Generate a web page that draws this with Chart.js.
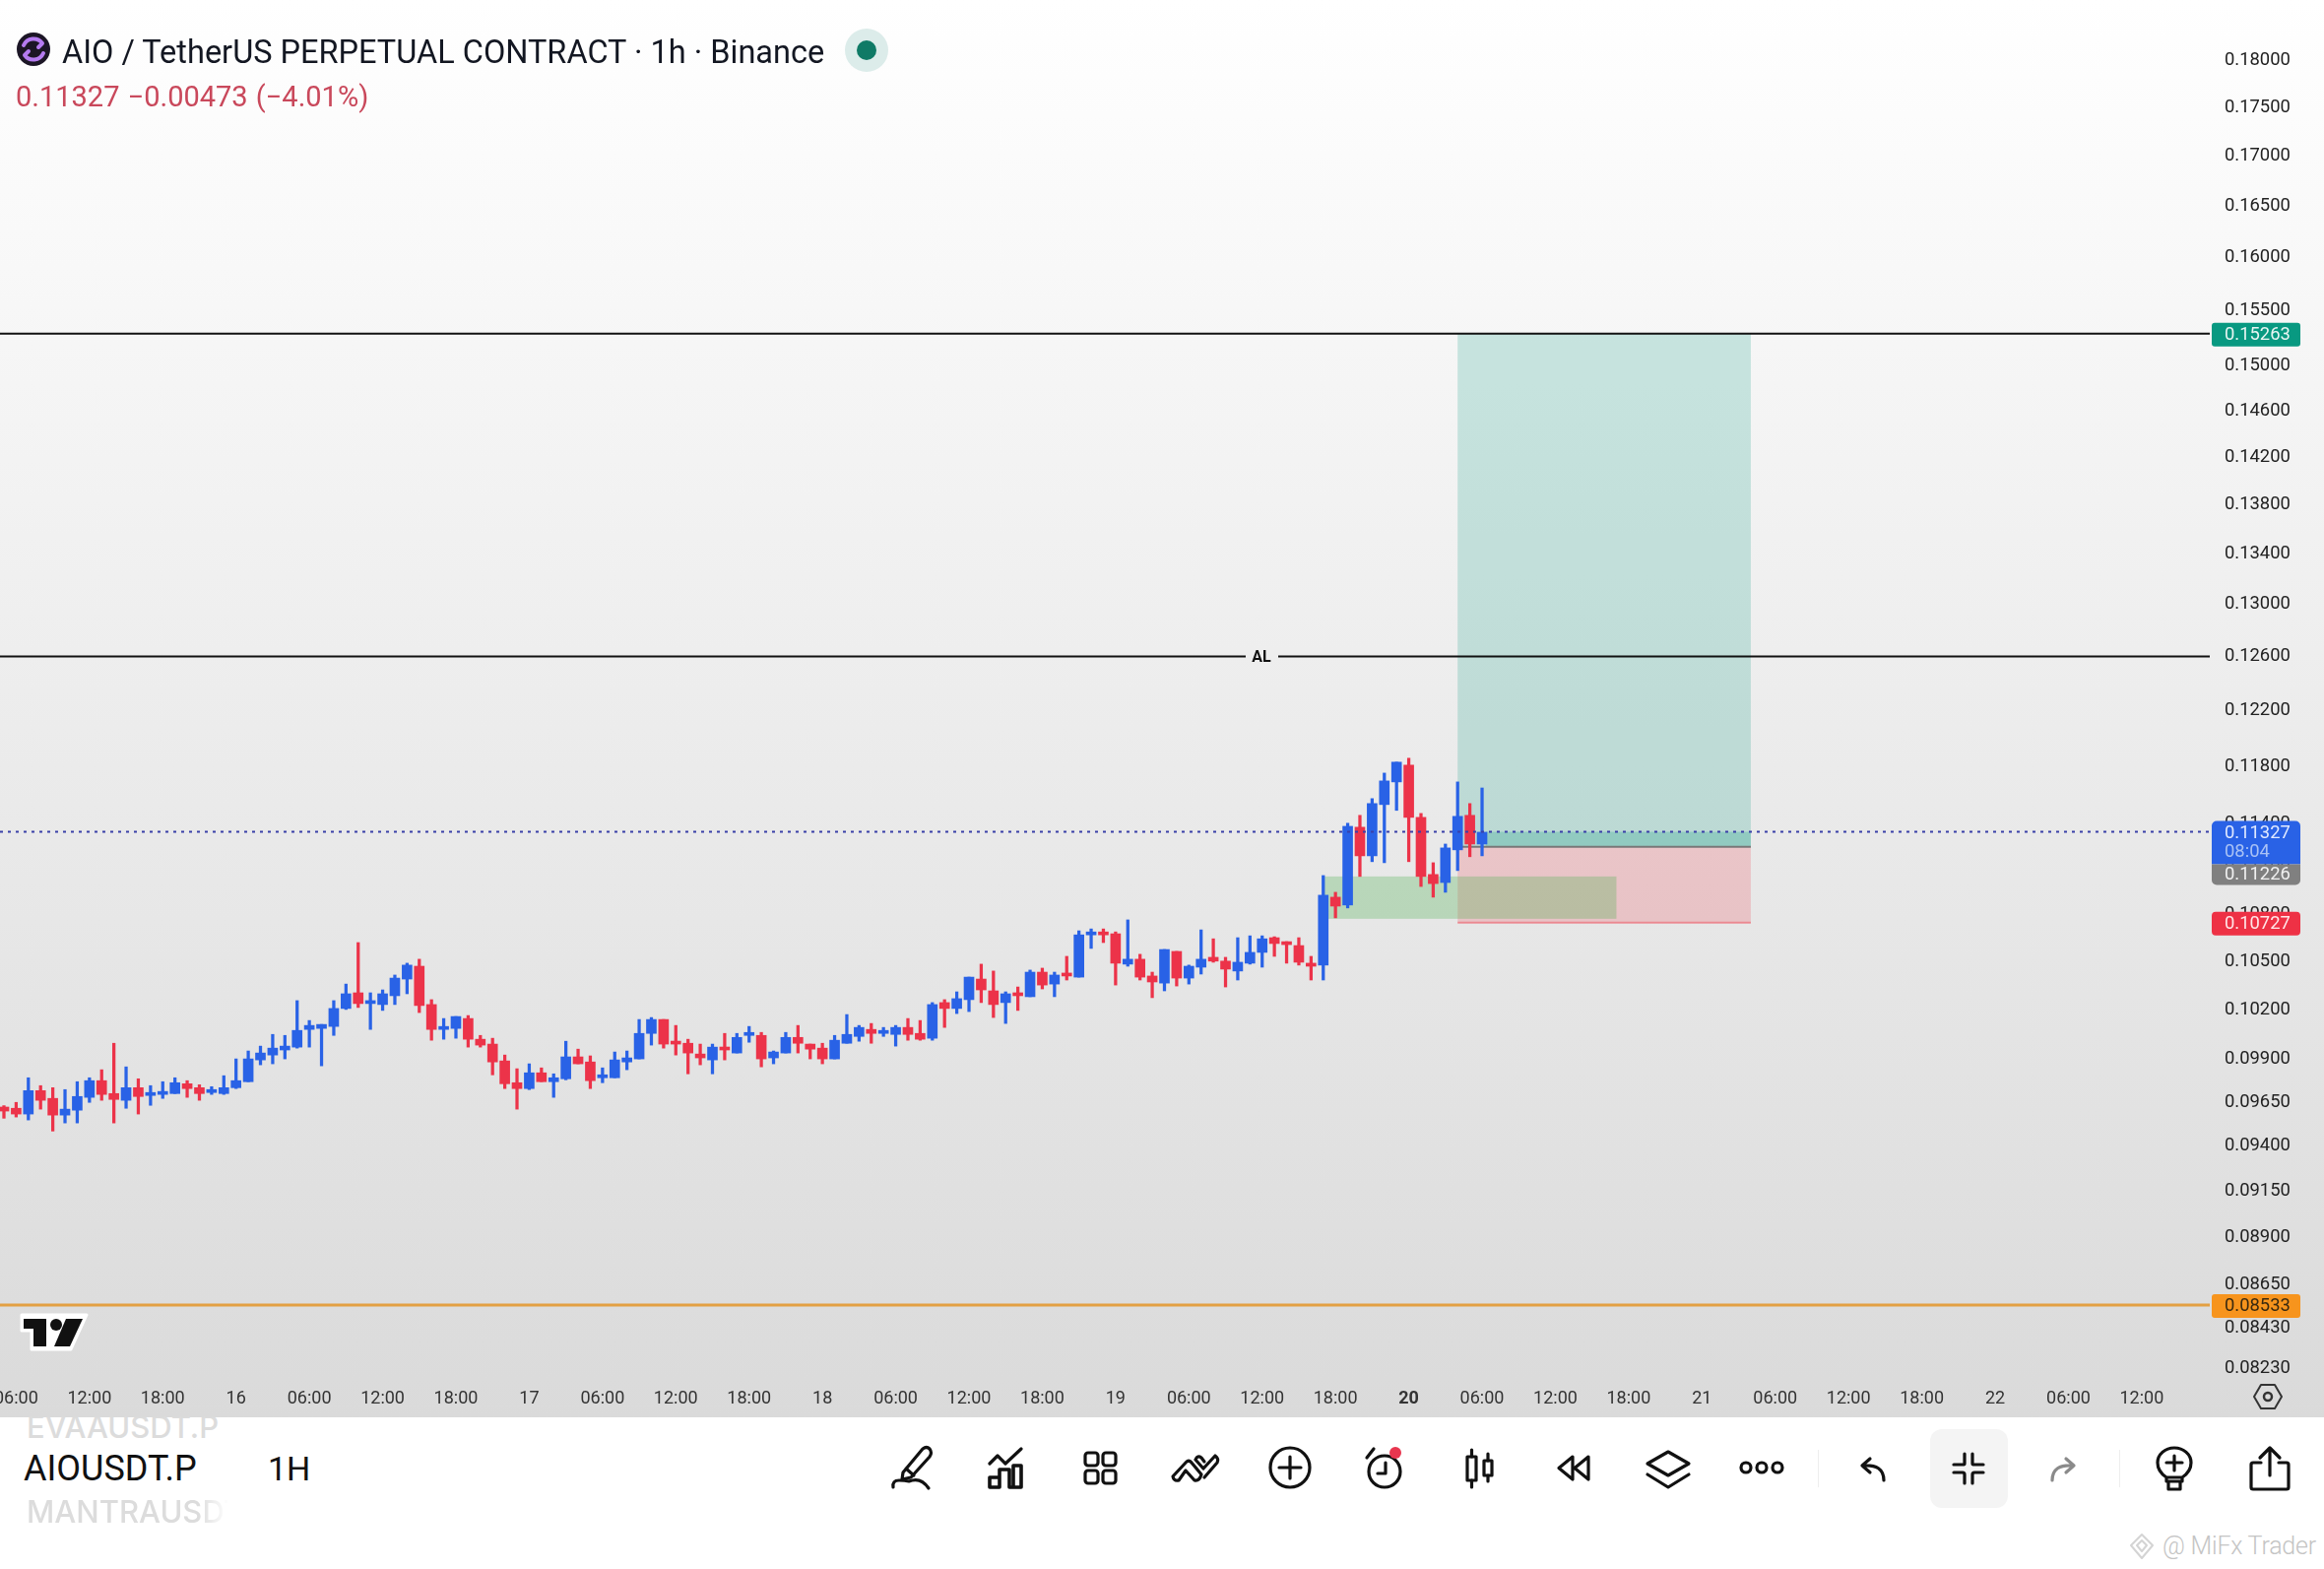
<!DOCTYPE html>
<html>
<head>
<meta charset="utf-8">
<title>AIOUSDT.P</title>
<script src="https://cdn.jsdelivr.net/npm/chart.js@4/dist/chart.umd.min.js"></script>
<style>
  html, body { margin: 0; padding: 0; background: #fff; }
  body { width: 2360px; height: 1593px; position: relative; overflow: hidden; font-family: Roboto, sans-serif; }
  #plot { position: absolute; left: 0; top: 0; width: 2360px; height: 1439px; background: linear-gradient(#ffffff, #dadada); }
  #c { display: block; }
  .t { position: absolute; white-space: nowrap; line-height: 1; }
  #title { left: 63px; top: 34px; font: 400 32.500px Roboto, sans-serif; color: #131722; }
  #quote { left: 16px; top: 81px; font: 400 29px Roboto, sans-serif; word-spacing: 1px; color: #c9485b; }
  .sym { font-family: Roboto, sans-serif; font-weight: 400; }
  #ghostTop, #ghostBottom { color: #dcdcdc; overflow: hidden; font: 500 31px Inter, sans-serif; }
  #ghostBottom { -webkit-mask-image: linear-gradient(90deg, #000 85%, transparent); }
  svg.i { position: absolute; overflow: visible; }
  svg.i * { fill: none; stroke: #111; stroke-width: 3.2; stroke-linecap: round; stroke-linejoin: round; }
</style>
</head>
<body>
<div id="plot"><canvas id="c" width="2360" height="1439"></canvas></div>

<svg class="i" style="left:0;top:0" width="90" height="100" viewBox="0 0 90 100">
  <circle cx="34" cy="50" r="17" style="fill:#1c1626;stroke:none"/>
  <path d="M24 46 A11 11 0 0 1 43 44 L39 48 M44 54 A11 11 0 0 1 25 56 L29 52" style="stroke:#b57bf0;stroke-width:4"/>
</svg>
<div class="t" id="title">AIO / TetherUS PERPETUAL CONTRACT · 1h · Binance</div>
<svg class="i" style="left:858px;top:29px" width="44" height="44">
  <circle cx="22" cy="22" r="22" style="fill:#dcecea;stroke:none"/>
  <circle cx="22" cy="22" r="10" style="fill:#0f7a66;stroke:none"/>
</svg>
<div class="t" id="quote">0.11327 −0.00473 (−4.01%)</div>

<svg class="i" style="left:20px;top:1333px" width="70" height="38" viewBox="0 0 70 38">
  <path d="M2 2 H33 V37 H12 V18 H2 Z M34 2 H68 L52 37 H34 Z" style="fill:#fff;stroke:#fff;stroke-width:3"/>
  <path d="M4 6 H27 V34 H14 V16 H4 Z" style="fill:#111;stroke:none"/>
  <circle cx="37" cy="12" r="6" style="fill:#111;stroke:none"/>
  <path d="M47 6 H64 L51 34 H35 Z" style="fill:#111;stroke:none"/>
</svg>
<svg class="i" style="left:2288px;top:1405px" width="30" height="26" viewBox="0 0 30 26">
  <path d="M1 13 L8 1 H22 L29 13 L22 25 H8 Z" style="stroke-width:2;stroke:#333"/>
  <circle cx="15" cy="13" r="4" style="stroke-width:2.5;stroke:#333"/>
</svg>

<div class="t" id="ghostTop" style="left:27px;top:1439px;height:24px;"><div style="margin-top:-9px">EVAAUSDT.P</div></div>
<div class="t sym" style="left:24px;top:1473px;font-size:36px;color:#111;">AIOUSDT.P</div>
<div class="t sym" style="left:272px;top:1474px;font-size:34px;color:#111;">1H</div>
<div class="t" id="ghostBottom" style="left:27px;top:1516px;width:205px;">MANTRAUSDT.P</div>

<!-- toolbar -->
<svg class="i" style="left:905px;top:1467px" width="44" height="46" viewBox="0 0 44 46">
  <path d="M12 28 L32 4 Q36 1 39 4 Q42 8 39 12 L20 33 L11 35 Z M15 24 L23 31"/>
  <path d="M2 43 Q1 36 8 36 Q14 36 18 37 Q30 32 38 44"/>
</svg>
<svg class="i" style="left:1004px;top:1470px" width="36" height="42" viewBox="0 0 36 42">
  <path d="M1 16 L9 8 L17 16 L33 1"/>
  <path d="M1 40 V30 H11 V40 Z M11 40 V22 H21 V40 M21 40 H33 V18 H25 V40" style="stroke-width:3.6"/>
</svg>
<svg class="i" style="left:1101px;top:1474px" width="33" height="33" viewBox="0 0 33 33">
  <rect x="1" y="1" width="13" height="13" rx="3"/><rect x="19" y="1" width="13" height="13" rx="3"/>
  <rect x="1" y="19" width="13" height="13" rx="3"/><rect x="19" y="19" width="13" height="13" rx="3"/>
</svg>
<svg class="i" style="left:1190px;top:1476px" width="48" height="30" viewBox="0 0 48 30">
  <path d="M1 23 L15 8 Q18 6 20 9 L30 21 Q28 28 23 27 L14 17 L7 27 Q2 28 1 23 Z M24 6 L32 15 L44 2 Q48 5 46 9 L33 24 M24 6 Q26 1 30 4 L33 8"/>
</svg>
<svg class="i" style="left:1289px;top:1469px" width="42" height="42" viewBox="0 0 42 42">
  <circle cx="21" cy="21" r="20"/><path d="M21 10 V32 M10 21 H32"/>
</svg>
<svg class="i" style="left:1386px;top:1468px" width="38" height="44" viewBox="0 0 38 44">
  <circle cx="20" cy="26" r="16"/><path d="M21 17 V28 H13 M2 12 L9 3"/>
  <circle cx="31" cy="7" r="6" style="fill:#e8364f;stroke:none"/>
</svg>
<svg class="i" style="left:1488px;top:1471px" width="30" height="40" viewBox="0 0 30 40">
  <rect x="2" y="8" width="9" height="24"/><path d="M6.500 1 V8 M6.500 32 V39"/>
  <rect x="19" y="12" width="8" height="15"/><path d="M23 5 V12 M23 27 V33"/>
</svg>
<svg class="i" style="left:1581px;top:1477px" width="34" height="27" viewBox="0 0 34 27">
  <path d="M16 2 L2 13.500 L16 25 Z M32 2 L18 13.500 L32 25 Z"/>
</svg>
<svg class="i" style="left:1672px;top:1473px" width="44" height="38" viewBox="0 0 44 38">
  <path d="M22 1 L43 13 L22 25 L1 13 Z M1 24 L22 37 L43 24"/>
</svg>
<svg class="i" style="left:1767px;top:1483px" width="44" height="14" viewBox="0 0 44 14">
  <circle cx="6" cy="7" r="5"/><circle cx="22" cy="7" r="5"/><circle cx="38" cy="7" r="5"/>
</svg>
<div style="position:absolute;left:1846px;top:1472px;width:1px;height:38px;background:#eee"></div>
<svg class="i" style="left:1889px;top:1480px" width="26" height="24" viewBox="0 0 26 24">
  <path d="M10 1 L2 8 L10 15 M2 8 Q24 6 24 23"/>
</svg>
<div style="position:absolute;left:1960px;top:1451px;width:79px;height:80px;border-radius:12px;background:#f4f4f4"></div>
<svg class="i" style="left:1983px;top:1475px" width="32" height="32" viewBox="0 0 32 32">
  <path d="M12 1 V11 Q12 12 10 12 H1 M20 1 V11 Q20 12 22 12 H31 M12 31 V22 Q12 20 10 20 H1 M20 31 V22 Q20 20 22 20 H31"/>
</svg>
<svg class="i" style="left:2082px;top:1480px" width="26" height="24" viewBox="0 0 26 24">
  <path style="stroke:#8a8a8a" d="M16 1 L24 8 L16 15 M24 8 Q2 6 2 23"/>
</svg>
<div style="position:absolute;left:2152px;top:1472px;width:1px;height:38px;background:#eee"></div>
<svg class="i" style="left:2190px;top:1469px" width="36" height="44" viewBox="0 0 36 44">
  <path d="M10 31 Q1 25 1 16 A17 15 0 0 1 35 16 Q35 25 26 31 Z M18 9 V24 M10 16 H26 M10 31 V35 H26 V31 M12 35 V43 H24 V35"/>
</svg>
<svg class="i" style="left:2285px;top:1469px" width="40" height="44" viewBox="0 0 40 44">
  <path d="M20 29 V2 M10 11 L20 1 L30 11 M11 16 H3 Q1 16 1 18 V41 Q1 43 3 43 H37 Q39 43 39 41 V18 Q39 16 37 16 H29"/>
</svg>
<svg class="i" style="left:2163px;top:1557px" width="24" height="26" viewBox="0 0 24 26">
  <path style="stroke:#d4d4d4;stroke-width:2" d="M12 1 L23 12 L12 25 L1 12 Z M12 7 L17 12 L12 18 L7 12 Z"/>
</svg>
<div class="t" style="left:2196px;top:1555px;font:300 25px Roboto, sans-serif;letter-spacing:-0.2px;color:#c4c4c4;">@ MiFx Trader</div>

<script>
// candles, one hour each
const firstHour = -1; // 05:00 on the 15th, hour 0 is the 06:00 tick
const opens = [.09606,.09599,.09566,.09701,.09656,.09560,.09588,.09662,.09759,.09684,.09645,.09718,.09673,.09679,.09684,.09741,.09718,.09690,.09684,.09718,.09753,.09881,.09910,.09940,.09957,.10063,.10069,.10081,.10190,.10286,.10220,.10214,.10268,.10371,.10451,.10214,.10063,.10069,.10129,.10004,.09975,.09875,.09747,.09713,.09805,.09753,.09770,.09899,.09869,.09776,.09776,.09869,.09887,.10039,.10123,.09986,.09980,.09916,.09881,.09951,.09922,.10027,.10027,.09893,.09922,.10015,.09975,.09951,.09887,.09980,.10021,.10063,.10039,.10033,.10075,.10039,.10010,.10226,.10190,.10244,.10371,.10298,.10226,.10280,.10262,.10414,.10340,.10402,.10383,.10649,.10662,.10656,.10464,.10495,.10390,.10346,.10544,.10377,.10445,.10507,.10483,.10421,.10470,.10538,.10631,.10600,.10581,.10470,.10458,.10892,.10841,.11358,.11165,.11513,.11670,.11788,.11425,.11041,.10988,.11205,.11439,.11244];
const highs = [.09614,.09633,.09776,.09730,.09718,.09707,.09753,.09776,.09823,.09980,.09840,.09770,.09730,.09753,.09776,.09759,.09735,.09724,.09788,.09887,.09934,.09963,.10033,.10027,.10238,.10117,.10093,.10238,.10340,.10600,.10286,.10304,.10396,.10470,.10495,.10244,.10129,.10141,.10147,.10027,.10010,.09910,.09829,.09858,.09834,.09799,.09992,.09945,.09905,.09834,.09928,.09934,.10123,.10135,.10123,.10087,.10004,.09975,.09975,.10039,.10039,.10081,.10045,.09934,.10045,.10087,.09975,.09980,.10027,.10153,.10087,.10099,.10075,.10087,.10129,.10117,.10226,.10244,.10292,.10383,.10464,.10421,.10292,.10322,.10427,.10439,.10414,.10513,.10675,.10687,.10687,.10668,.10745,.10526,.10414,.10556,.10544,.10458,.10681,.10624,.10507,.10631,.10643,.10643,.10637,.10606,.10631,.10513,.11034,.10924,.11385,.11439,.11554,.11732,.11809,.11837,.11452,.11119,.11244,.11670,.11520,.11628];
const lows = [.09542,.09549,.09532,.09594,.09469,.09515,.09515,.09633,.09645,.09515,.09599,.09566,.09616,.09656,.09684,.09662,.09645,.09679,.09679,.09713,.09753,.09852,.09858,.09887,.09951,.09957,.09846,.10027,.10184,.10196,.10063,.10178,.10214,.10280,.10165,.09998,.10004,.10010,.09957,.09957,.09793,.09713,.09594,.09707,.09753,.09662,.09764,.09858,.09713,.09747,.09776,.09823,.09887,.09969,.09951,.09910,.09799,.09852,.09799,.09881,.09922,.09986,.09840,.09858,.09922,.09922,.09887,.09858,.09887,.09980,.09992,.09980,.10021,.09963,.09998,.09998,.09998,.10075,.10159,.10171,.10226,.10135,.10099,.10178,.10262,.10310,.10262,.10365,.10383,.10563,.10600,.10334,.10451,.10365,.10256,.10298,.10328,.10340,.10402,.10476,.10322,.10365,.10464,.10445,.10513,.10470,.10458,.10365,.10365,.10758,.10822,.11028,.11126,.11119,.11473,.11126,.10962,.10892,.10924,.11067,.11159,.11165];
const closes = [.09583,.09566,.09701,.09645,.09560,.09594,.09667,.09759,.09679,.09650,.09718,.09667,.09684,.09690,.09747,.09713,.09684,.09701,.09718,.09759,.09887,.09922,.09951,.09963,.10057,.10087,.10093,.10190,.10280,.10220,.10232,.10280,.10377,.10458,.10208,.10063,.10075,.10141,.10004,.09969,.09869,.09741,.09713,.09805,.09753,.09776,.09899,.09858,.09759,.09788,.09881,.09893,.10039,.10123,.09975,.09975,.09922,.09893,.09957,.09940,.10015,.10039,.09887,.09928,.10015,.09980,.09945,.09887,.09998,.10033,.10075,.10039,.10057,.10075,.10033,.10004,.10214,.10190,.10250,.10383,.10304,.10214,.10280,.10268,.10414,.10334,.10396,.10390,.10649,.10662,.10649,.10470,.10495,.10383,.10353,.10556,.10377,.10451,.10495,.10483,.10433,.10476,.10538,.10624,.10594,.10587,.10476,.10451,.10905,.10834,.11364,.11165,.11520,.11677,.11809,.11425,.11028,.10981,.11218,.11432,.11244,.11324];

// axis
const tickHours = [0,6,12,18,24,30,36,42,48,54,60,66,72,78,84,90,96,102,108,114,120,126,132,138,144,150,156,162,168,174];
const tickLabels = ["06:00","12:00","18:00","16","06:00","12:00","18:00","17","06:00","12:00","18:00","18","06:00","12:00","18:00","19","06:00","12:00","18:00","20","06:00","12:00","18:00","21","06:00","12:00","18:00","22","06:00","12:00"];
const priceTicks = [.18,.175,.17,.165,.16,.155,.15,.146,.142,.138,.134,.13,.126,.122,.118,.114,.111,.108,.105,.102,.099,.0965,.094,.0915,.089,.0865,.0843,.0823];

// levels and drawings
const stopTop = 0.15263;
const alLevel = 0.12581;
const orangeLevel = 0.08533;
const lastPrice = 0.11327;
const entryPrice = 0.11226;
const stopPrice = 0.10727;
const positionHours = [118, 142];
const greenHours = [107.1, 131];
const greenPrices = [0.10752, 0.11028];

const BLUE = "#2962e6", RED = "#ec3349";
const FONT = "Roboto, sans-serif";

const hours = opens.map((_, i) => firstHour + i);
const candleColor = (i) => (closes[i] >= opens[i] ? BLUE : RED);
const xMin = -1.322, xMax = 179.57;

function levelLine(value, color, width, dash) {
  return {
    type: "line",
    data: [{ x: xMin, y: value }, { x: xMax, y: value }],
    borderColor: color,
    borderWidth: width,
    borderDash: dash || [],
    pointRadius: 0,
    order: 1,
  };
}

// position boxes sit under the candles
const zones = {
  id: "zones",
  beforeDatasetsDraw(chart) {
    const { ctx, scales: { x, y } } = chart;
    const box = (h0, h1, p0, p1, fill) => {
      ctx.fillStyle = fill;
      ctx.fillRect(x.getPixelForValue(h0), y.getPixelForValue(p1), x.getPixelForValue(h1) - x.getPixelForValue(h0), y.getPixelForValue(p0) - y.getPixelForValue(p1));
    };
    ctx.save();
    box(positionHours[0], positionHours[1], entryPrice, stopTop, "rgba(8,153,129,0.2)");
    box(positionHours[0], positionHours[1], stopPrice, entryPrice, "rgba(242,54,69,0.2)");
    box(120.3, positionHours[1], entryPrice, lastPrice, "rgba(8,153,129,0.24)");
    box(greenHours[0], greenHours[1], greenPrices[0], greenPrices[1], "rgba(76,175,80,0.3)");
    ctx.strokeStyle = "#777";
    ctx.lineWidth = 2;
    ctx.beginPath();
    ctx.moveTo(x.getPixelForValue(positionHours[0]), y.getPixelForValue(entryPrice));
    ctx.lineTo(x.getPixelForValue(positionHours[1]), y.getPixelForValue(entryPrice));
    ctx.stroke();
    ctx.strokeStyle = "rgba(236,110,120,0.7)";
    ctx.beginPath();
    ctx.moveTo(x.getPixelForValue(positionHours[0]), y.getPixelForValue(stopPrice));
    ctx.lineTo(x.getPixelForValue(positionHours[1]), y.getPixelForValue(stopPrice));
    ctx.stroke();
    ctx.restore();
  },
};

// AL text and the price tags on the right
const tags = {
  id: "tags",
  afterDraw(chart) {
    const { ctx, scales: { y } } = chart;
    const L = 2246, W = 90;
    const tag = (top, h, fill, radius) => {
      ctx.fillStyle = fill;
      ctx.beginPath();
      ctx.roundRect(L, top, W, h, radius);
      ctx.fill();
    };
    const label = (text, py, color) => {
      ctx.fillStyle = color;
      ctx.fillText(text, 2259, py);
    };
    ctx.save();
    ctx.font = "18.400px " + FONT;
    ctx.textAlign = "left";
    ctx.textBaseline = "middle";

    const alY = y.getPixelForValue(alLevel);
    ctx.clearRect(1265, alY - 3, 33, 6);
    ctx.fillStyle = "#111";
    ctx.font = "bold 16px " + FONT;
    ctx.textAlign = "center";
    ctx.fillText("AL", 1281, alY + 2);
    ctx.font = "18.400px " + FONT;
    ctx.textAlign = "left";

    const gy = y.getPixelForValue(stopTop);
    tag(gy - 11, 24, "#089981", 3);
    label(stopTop.toFixed(5), gy + 2, "#e8f5f2");

    const ly = y.getPixelForValue(lastPrice);
    tag(ly - 11, 44, BLUE, [5, 5, 0, 0]);
    label(lastPrice.toFixed(5), ly + 2, "#dfe8ff");
    label("08:04", ly + 21, "#a9c2f5");

    tag(ly + 33, 21, "#808080", [0, 0, 5, 5]);
    label(entryPrice.toFixed(5), ly + 44, "#f0f0f0");

    const ry = y.getPixelForValue(stopPrice);
    tag(ry - 11, 24, "#ee3145", 4);
    label(stopPrice.toFixed(5), ry + 2, "#ffe6e8");

    const oy = y.getPixelForValue(orangeLevel);
    tag(oy - 11, 24, "#f7941d", 3);
    label(orangeLevel.toFixed(5), oy + 2, "#3a2a10");
    ctx.restore();
  },
};

new Chart(document.getElementById("c"), {
  type: "bar",
  data: {
    datasets: [
      levelLine(stopTop, "#111", 2),
      levelLine(alLevel, "#111", 2),
      levelLine(orangeLevel, "#e3a043", 3),
      levelLine(lastPrice, "#3a40a8", 2, [3, 5]),
      {
        label: "body",
        data: hours.map((h, i) => ({ x: h, y: [opens[i], closes[i]] })),
        backgroundColor: closes.map((c, i) => candleColor(i)),
        barThickness: 10,
        minBarLength: 3,
        grouped: false,
        order: 2,
      },
      {
        label: "wick",
        data: hours.map((h, i) => ({ x: h, y: [lows[i], highs[i]] })),
        backgroundColor: closes.map((c, i) => candleColor(i)),
        barThickness: 2.6,
        grouped: false,
        order: 3,
      },
    ],
  },
  options: {
    responsive: false,
    animation: false,
    layout: { autoPadding: false, padding: 0 },
    plugins: { legend: { display: false }, tooltip: { enabled: false } },
    scales: {
      x: {
        type: "linear",
        offset: false,
        min: xMin,
        max: xMax,
        grid: { display: false, drawTicks: false },
        border: { display: false },
        afterFit: (s) => { s.height = 41; s.paddingLeft = 0; s.paddingRight = 0; },
        afterBuildTicks: (s) => { s.ticks = tickHours.map((v) => ({ value: v })); },
        ticks: {
          autoSkip: false,
          maxRotation: 0,
          padding: 12,
          color: "#333",
          font: (c) => ({ size: 18, family: FONT, weight: tickLabels[tickHours.indexOf(c.tick && c.tick.value)] === "20" ? "bold" : "normal" }),
          callback: (v) => tickLabels[tickHours.indexOf(v)],
        },
      },
      y: {
        type: "logarithmic",
        position: "right",
        min: 0.08173,
        max: 0.18636,
        grid: { display: false, drawTicks: false },
        border: { display: false },
        afterFit: (s) => { s.width = 116; s.paddingTop = 0; s.paddingBottom = 0; },
        afterBuildTicks: (s) => { s.ticks = priceTicks.map((v) => ({ value: v })); },
        ticks: {
          autoSkip: false,
          padding: 15,
          labelOffset: 3,
          color: "#222",
          font: { size: 18.4, family: FONT },
          callback: (v) => Number(v).toFixed(5),
        },
      },
    },
  },
  plugins: [zones, tags],
});
</script>
</body>
</html>
